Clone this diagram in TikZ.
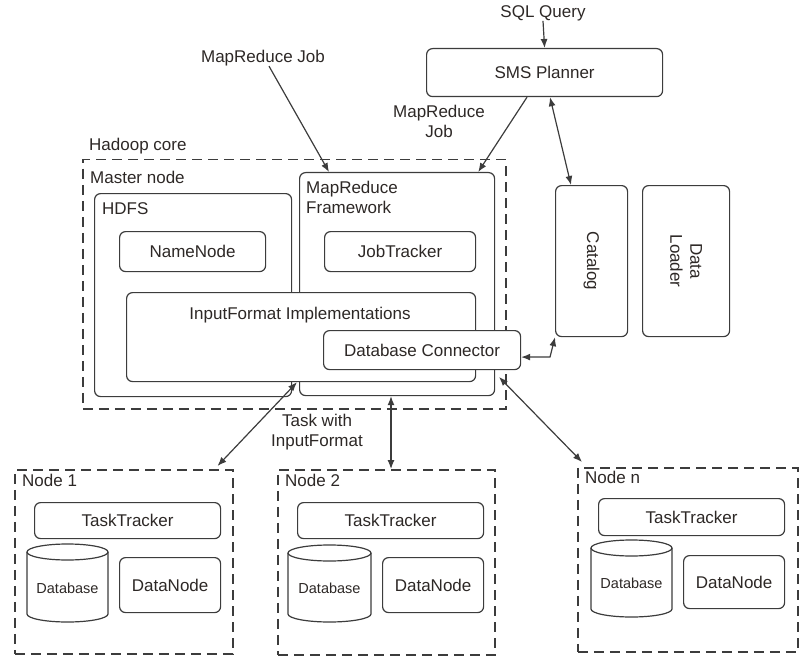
\documentclass[tikz,border=0pt]{standalone}
\usepackage{fontspec}
\setmainfont{Liberation Sans}
\usetikzlibrary{arrows.meta,calc}
\definecolor{txtc}{RGB}{45,40,38}
\definecolor{linec}{RGB}{60,60,60}
\begin{document}
\begin{tikzpicture}[x=1pt,y=-1pt,
  every node/.style={text=txtc},
  ln/.style={draw=linec,line width=1.2pt},
  rbox/.style={ln,rounded corners=6pt,fill=white,anchor=north west,inner sep=0pt},
  dbox/.style={draw=linec,line width=1.5pt,dash pattern=on 10pt off 6pt,anchor=north west,inner sep=0pt},
  lbl/.style={font=\fontsize{17}{20}\selectfont,inner sep=0pt},
  slbl/.style={font=\fontsize{14.5}{17}\selectfont,inner sep=0pt},
  arr/.style={draw=linec,line width=1.2pt,-{Latex[length=9pt,width=7pt]}},
  darr/.style={draw=linec,line width=1.2pt,{Latex[length=9pt,width=7pt]}-{Latex[length=9pt,width=7pt]}}
]
\useasboundingbox (0,0) rectangle (806,658);

% top
\node[lbl] (sql) at (543,13) {SQL Query};
\node[rbox,minimum width=236pt,minimum height=48pt,lbl] (sms) at (426,48) {SMS Planner};
\node[lbl] (mrj) at (263,58) {MapReduce Job};
\node[lbl,align=center] (mrj2) at (439,121) {MapReduce\\Job};

% catalog / data loader
\node[rbox,minimum width=72pt,minimum height=151pt] (cat) at (555,185) {};
\node[lbl,rotate=-90] (catt) at (cat.center) {Catalog};
\node[rbox,minimum width=87pt,minimum height=151pt] (dl) at (642,185) {};
\node[lbl,rotate=-90,align=center] (dlt) at (dl.center) {Data\\Loader};

% hadoop core
\node[dbox,minimum width=423pt,minimum height=249pt] (hc) at (82,159) {};
\node[lbl,anchor=west] (hct) at (89,146) {Hadoop core};
\node[lbl,anchor=west] (mnt) at (90,177) {Master node};

\node[rbox,minimum width=197pt,minimum height=203pt] (hdfs) at (94,193) {};
\node[lbl,anchor=west] (hdfst) at (102,209) {HDFS};
\node[rbox,minimum width=195pt,minimum height=223pt] (mrf) at (299,172) {};
\node[lbl,anchor=north west,align=left] (mrft) at (306,181) {MapReduce\\Framework};

\node[rbox,minimum width=146pt,minimum height=40pt,lbl] (nn) at (119,231) {NameNode};
\node[rbox,minimum width=151pt,minimum height=40pt,lbl] (jt) at (324,231) {JobTracker};

\node[rbox,minimum width=349pt,minimum height=89pt] (ifi) at (126,292) {};
\node[lbl] (ifit) at (300,315) {InputFormat Implementations};
\node[rbox,minimum width=197pt,minimum height=39pt,lbl] (dbc) at (323,330) {Database Connector};

% worker nodes
\node[dbox,minimum width=218pt,minimum height=184pt] (n1) at (14,469) {};
\node[lbl,anchor=west] (n1t) at (22,480) {Node 1};
\node[dbox,minimum width=217pt,minimum height=185pt] (n2) at (277,469) {};
\node[lbl,anchor=west] (n2t) at (285,480) {Node 2};
\node[dbox,minimum width=220pt,minimum height=184pt] (n3) at (577,467) {};
\node[lbl,anchor=west] (n3t) at (585,477) {Node n};

\node[rbox,minimum width=186pt,minimum height=36pt,lbl] (tt1) at (34,502) {TaskTracker};
\node[rbox,minimum width=101pt,minimum height=55pt,lbl] (dn1) at (119,557) {DataNode};
\node[rbox,minimum width=186pt,minimum height=36pt,lbl] (tt2) at (297,502) {TaskTracker};
\node[rbox,minimum width=101pt,minimum height=55pt,lbl] (dn2) at (382,557) {DataNode};
\node[rbox,minimum width=186pt,minimum height=37pt,lbl] (tt3) at (598,498) {TaskTracker};
\node[rbox,minimum width=101pt,minimum height=53pt,lbl] (dn3) at (683,555) {DataNode};

% cylinders
\draw[ln,fill=white] (27,552) -- (27,614) arc[start angle=180,end angle=360,x radius=40.5pt,y radius=8pt] -- (108,552);
\draw[ln] (67.5,552) ellipse[x radius=40.5pt,y radius=8pt];
\node[slbl] (db1) at (67.5,588) {Database};
\draw[ln,fill=white] (288,553) -- (288,614) arc[start angle=180,end angle=360,x radius=41.5pt,y radius=8pt] -- (371,553);
\draw[ln] (329.5,553) ellipse[x radius=41.5pt,y radius=8pt];
\node[slbl] (db2) at (329.5,588) {Database};
\draw[ln,fill=white] (591,548) -- (591,609) arc[start angle=180,end angle=360,x radius=40.5pt,y radius=8pt] -- (672,548);
\draw[ln] (631.5,548) ellipse[x radius=40.5pt,y radius=8pt];
\node[slbl] (db3) at (631.5,583) {Database};

% connectors
\draw[arr] (sql.south) -- (sms.north);
\draw[arr] ([xshift=6pt]mrj.south) -- ($(mrf.north west)+(30,0)$);
\draw[arr] ($(sms.south west)+(101,0)$) -- ($(mrf.north east)+(-17,0)$);
\draw[darr] ($(sms.south west)+(124,0)$) -- ($(cat.north west)+(16,0)$);
\coordinate (bend) at (550,357);
\draw[darr] ($(dbc.east)+(0,7)$) -- (bend) -- (cat.south west);
\node[lbl,align=center] (task) at (317,432) {Task with\\InputFormat};
\draw[darr] ($(ifi.south west)+(171,0)$) -- ($(n1.north east)+(-16,-3)$);
\draw[darr] ($(mrf.south west)+(92,0)$) -- ($(n2.north west)+(114,0)$);
\coordinate (hcr) at (499,377);
\draw[darr] (hcr) -- ($(n3.north west)+(5,-5)$);
\end{tikzpicture}
\end{document}
